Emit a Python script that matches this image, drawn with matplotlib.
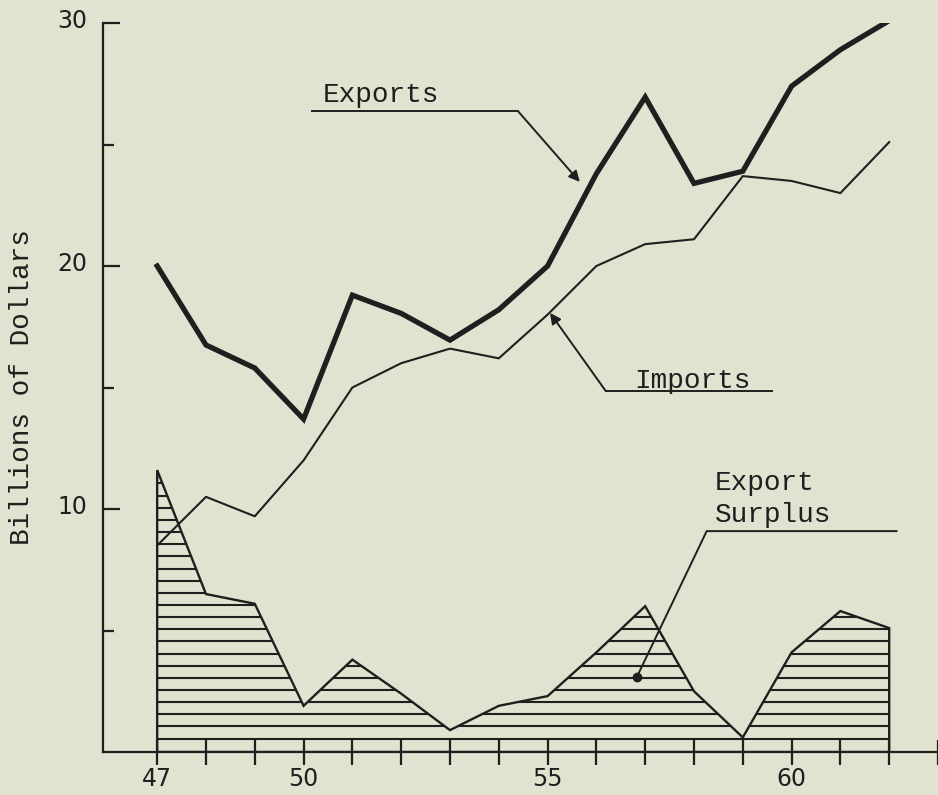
import numpy as np
import matplotlib
matplotlib.use('Agg')
import matplotlib.pyplot as plt
from matplotlib.patches import Polygon
from matplotlib.transforms import ScaledTranslation

# ---- data (billions of dollars) ----
years = [47, 48, 49, 50, 51, 52, 53, 54, 55, 56, 57, 58, 59, 60, 61, 62]
exports = [20.0, 16.75, 15.8, 13.7, 18.8, 18.05, 16.95, 18.2, 20.0, 23.8,
           26.95, 23.4, 23.9, 27.4, 28.9, 30.1]
imports = [8.5, 10.5, 9.7, 12.0, 15.0, 16.0, 16.6, 16.2, 18.0, 20.0,
           20.9, 21.1, 23.7, 23.5, 23.0, 25.1]
surplus = [11.6, 6.5, 6.1, 1.9, 3.8, 2.4, 0.9, 1.9, 2.3, 4.1,
           6.0, 2.5, 0.6, 4.1, 5.8, 5.1]

x_ticks = list(range(47, 64))
x_tick_labels = ['47', '', '', '50', '', '', '', '', '55', '', '', '', '', '60', '', '', '']
y_major = [10, 20, 30]
y_major_labels = ['10', '20', '30']
y_minor = [5, 15, 25]

BG = '#e2e2d0'
INK = '#1f1f1f'
MONO = 'Liberation Mono'
SANS = 'DejaVu Sans'

fig = plt.figure(figsize=(9.38, 7.95), dpi=100)
fig.patch.set_facecolor(BG)
ax = fig.add_axes([103 / 938, 43 / 795, 835 / 938, 729 / 795])
ax.set_facecolor(BG)
ax.set_xlim(45.89, 63.0)
ax.set_ylim(0, 30)

# lines
ax.plot(years, exports, color=INK, lw=3.8, solid_joinstyle='miter', zorder=4)
ax.plot(years, imports, color=INK, lw=1.5, zorder=4)

# export surplus hatched area
verts = [(years[0], 0)] + list(zip(years, surplus)) + [(years[-1], 0)]
poly = Polygon(verts, closed=True, fill=False, edgecolor=INK, lw=1.7, zorder=3)
ax.add_patch(poly)
levels = np.arange(0.55, 12.0, 0.5)
hl = ax.hlines(levels, years[0], years[-1], colors=INK, lw=1.5, zorder=2)
hl.set_clip_path(poly)

# spines
for s in ['top', 'right']:
    ax.spines[s].set_visible(False)
ax.spines['left'].set_bounds(0, 30)
ax.spines['left'].set_linewidth(1.6)
ax.spines['bottom'].set_linewidth(1.6)
ax.spines['left'].set_color(INK)
ax.spines['bottom'].set_color(INK)

ax.set_xticks(x_ticks)
ax.set_xticklabels(x_tick_labels, fontsize=17, family=SANS, color=INK)
ax.tick_params(axis='x', direction='inout', length=18, width=1.6, color=INK, pad=2)

ax.set_yticks(y_major)
ax.set_yticklabels(y_major_labels, fontsize=17, family=SANS, color=INK)
ax.set_yticks(y_minor, minor=True)
ax.tick_params(axis='y', which='major', direction='in', length=12, width=1.6, color=INK, pad=11)
ax.tick_params(axis='y', which='minor', direction='in', length=8, width=1.6, color=INK)
for lab in ax.get_yticklabels():
    lab.set_transform(lab.get_transform() + ScaledTranslation(0, 3.5 / 72, fig.dpi_scale_trans))

fig.text(22 / 938, 1 - 387 / 795, 'Billions of Dollars', rotation=90,
         ha='center', va='center', fontsize=20, family=MONO, color=INK)

# ---- annotations ----
lw_lead = 1.4
arrow = dict(arrowstyle='-|>', lw=lw_lead, color=INK, mutation_scale=16, shrinkA=0, shrinkB=0)

# Exports
ax.text(50.40, 26.75, 'Exports', fontsize=20, family=MONO, color=INK, va='baseline', ha='left')
ax.plot([50.17, 54.39], [26.38, 26.38], color=INK, lw=lw_lead)
ax.annotate('', xy=(55.66, 23.46), xytext=(54.39, 26.38), arrowprops=arrow)

# Imports
ax.text(56.78, 14.98, 'Imports', fontsize=20, family=MONO, color=INK, va='baseline', ha='left')
ax.plot([56.19, 59.59], [14.86, 14.86], color=INK, lw=lw_lead)
ax.annotate('', xy=(55.05, 18.07), xytext=(56.19, 14.86), arrowprops=arrow)

# Export Surplus
ax.text(58.42, 10.78, 'Export', fontsize=20, family=MONO, color=INK, va='baseline', ha='left')
ax.text(58.42, 9.47, 'Surplus', fontsize=20, family=MONO, color=INK, va='baseline', ha='left')
ax.plot([56.83, 58.26, 62.15], [3.09, 9.09, 9.09], color=INK, lw=lw_lead)
ax.plot([56.83], [3.09], 'o', color=INK, ms=6)

fig.savefig('out.png', dpi=100, facecolor=BG)
